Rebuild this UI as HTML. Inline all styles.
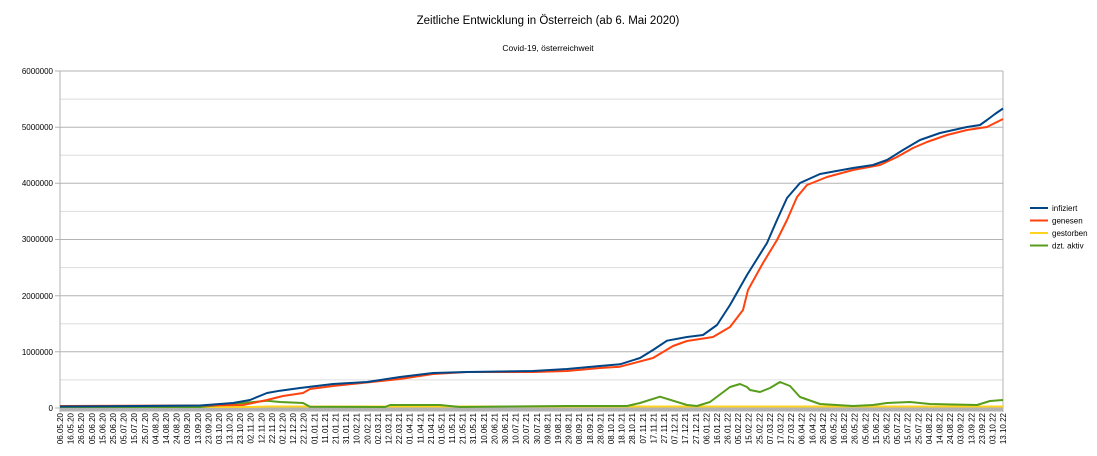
<!DOCTYPE html>
<html><head><meta charset="utf-8"><style>
html,body{margin:0;padding:0;background:#fff;}
svg{display:block;font-family:"Liberation Sans",sans-serif;}
</style></head><body>
<svg width="1097" height="456" viewBox="0 0 1097 456" xmlns="http://www.w3.org/2000/svg">
<text x="548" y="24" font-size="11.5" text-anchor="middle" fill="#000">Zeitliche Entwicklung in Österreich  (ab 6. Mai 2020)</text>
<text x="548" y="51" font-size="8.5" text-anchor="middle" fill="#000">Covid-19, österreichweit</text>
<g stroke="#dddddd" stroke-width="1">
<line x1="60" x2="1003" y1="99.1" y2="99.1"/><line x1="60" x2="1003" y1="155.3" y2="155.3"/><line x1="60" x2="1003" y1="211.4" y2="211.4"/><line x1="60" x2="1003" y1="267.6" y2="267.6"/><line x1="60" x2="1003" y1="323.7" y2="323.7"/><line x1="60" x2="1003" y1="379.9" y2="379.9"/>
</g>
<g stroke="#b3b3b3" stroke-width="1">
<line x1="55" x2="1003" y1="71" y2="71"/><line x1="55" x2="1003" y1="127.2" y2="127.2"/><line x1="55" x2="1003" y1="183.3" y2="183.3"/><line x1="55" x2="1003" y1="239.5" y2="239.5"/><line x1="55" x2="1003" y1="295.7" y2="295.7"/><line x1="55" x2="1003" y1="351.8" y2="351.8"/><line x1="55" x2="1003" y1="408" y2="408"/>
<line x1="60" x2="60" y1="71" y2="412"/><line x1="1003" x2="1003" y1="71" y2="412"/>
</g>
<rect x="60" y="408.5" width="943" height="3" fill="#b3b3b3"/>
<g font-size="8" text-anchor="end" fill="#000">
<text x="53" y="74">6000000</text><text x="53" y="130">5000000</text><text x="53" y="186">4000000</text><text x="53" y="242">3000000</text><text x="53" y="299">2000000</text><text x="53" y="355">1000000</text><text x="53" y="411">0</text>
</g>
<g fill="none" stroke-width="2" stroke-linejoin="round">
<polyline stroke="#ffd320" points="60,407 250,407 270,406.5 1003,406.5"/>
<polyline stroke="#579d1c" points="60,407 200,407 243,403 267,400.7 280,402 303,403 310,406.7 385,407 390,405 440,405 460,407 567,406 627,406 640,403 660,396.7 687,405 697,406 710,402 730,387 740,384 747,387 750,390 760,392 770,388 780,382 790,386 800,397 820,404 853,406 873,405 887,403 910,402 930,404 977,405 990,401 1003,400"/>
<polyline stroke="#ff420e" points="60,406 200,405.5 243,405 267,400 283,396 303,393 310,389 333,386 400,379 433,374 467,372 533,372 567,371 600,368 620,366.7 653,358 673,346 687,341 713,337 730,327 743,310 748,290 763,263 777,240 787,220 797,197 807,185 827,177 853,170 880,165 897,157 913,148 927,142 947,135 967,130 987,127 1003,119"/>
<polyline stroke="#004586" points="60,406.5 140,406 200,405.5 233,403 250,400 267,393 280,390.7 300,388 333,384 367,382 400,377 433,373 467,372 533,371 567,369 600,366 620,364.3 640,358 653,350 667,340.7 687,337 703,335 717,325 730,305 747,275 767,243 777,220 787,198 800,183 820,174 853,168 873,165 887,160 903,150 920,140 940,133 967,127 980,125 987,120 995,114 1003,108.5"/>
</g>
<g font-size="8" fill="#000">
<line x1="1030" x2="1048" y1="208" y2="208" stroke="#004586" stroke-width="2"/><text x="1052" y="211">infiziert</text>
<line x1="1030" x2="1048" y1="220.5" y2="220.5" stroke="#ff420e" stroke-width="2"/><text x="1052" y="223.5">genesen</text>
<line x1="1030" x2="1048" y1="233" y2="233" stroke="#ffd320" stroke-width="2"/><text x="1052" y="236">gestorben</text>
<line x1="1030" x2="1048" y1="245.5" y2="245.5" stroke="#579d1c" stroke-width="2"/><text x="1052" y="248.5">dzt. aktiv</text>
</g>
<g font-size="8" fill="#000" text-anchor="end">
<text transform="translate(63.0,413) rotate(-90)">06.05.20</text>
<text transform="translate(73.6,413) rotate(-90)">16.05.20</text>
<text transform="translate(84.2,413) rotate(-90)">26.05.20</text>
<text transform="translate(94.8,413) rotate(-90)">05.06.20</text>
<text transform="translate(105.4,413) rotate(-90)">15.06.20</text>
<text transform="translate(116.0,413) rotate(-90)">25.06.20</text>
<text transform="translate(126.6,413) rotate(-90)">05.07.20</text>
<text transform="translate(137.2,413) rotate(-90)">15.07.20</text>
<text transform="translate(147.8,413) rotate(-90)">25.07.20</text>
<text transform="translate(158.4,413) rotate(-90)">04.08.20</text>
<text transform="translate(169.0,413) rotate(-90)">14.08.20</text>
<text transform="translate(179.6,413) rotate(-90)">24.08.20</text>
<text transform="translate(190.2,413) rotate(-90)">03.09.20</text>
<text transform="translate(200.8,413) rotate(-90)">13.09.20</text>
<text transform="translate(211.3,413) rotate(-90)">23.09.20</text>
<text transform="translate(221.9,413) rotate(-90)">03.10.20</text>
<text transform="translate(232.5,413) rotate(-90)">13.10.20</text>
<text transform="translate(243.1,413) rotate(-90)">23.10.20</text>
<text transform="translate(253.7,413) rotate(-90)">02.11.20</text>
<text transform="translate(264.3,413) rotate(-90)">12.11.20</text>
<text transform="translate(274.9,413) rotate(-90)">22.11.20</text>
<text transform="translate(285.5,413) rotate(-90)">02.12.20</text>
<text transform="translate(296.1,413) rotate(-90)">12.12.20</text>
<text transform="translate(306.7,413) rotate(-90)">22.12.20</text>
<text transform="translate(317.3,413) rotate(-90)">01.01.21</text>
<text transform="translate(327.9,413) rotate(-90)">11.01.21</text>
<text transform="translate(338.5,413) rotate(-90)">21.01.21</text>
<text transform="translate(349.1,413) rotate(-90)">31.01.21</text>
<text transform="translate(359.7,413) rotate(-90)">10.02.21</text>
<text transform="translate(370.3,413) rotate(-90)">20.02.21</text>
<text transform="translate(380.9,413) rotate(-90)">02.03.21</text>
<text transform="translate(391.5,413) rotate(-90)">12.03.21</text>
<text transform="translate(402.1,413) rotate(-90)">22.03.21</text>
<text transform="translate(412.7,413) rotate(-90)">01.04.21</text>
<text transform="translate(423.3,413) rotate(-90)">11.04.21</text>
<text transform="translate(433.9,413) rotate(-90)">21.04.21</text>
<text transform="translate(444.5,413) rotate(-90)">01.05.21</text>
<text transform="translate(455.1,413) rotate(-90)">11.05.21</text>
<text transform="translate(465.7,413) rotate(-90)">21.05.21</text>
<text transform="translate(476.2,413) rotate(-90)">31.05.21</text>
<text transform="translate(486.8,413) rotate(-90)">10.06.21</text>
<text transform="translate(497.4,413) rotate(-90)">20.06.21</text>
<text transform="translate(508.0,413) rotate(-90)">30.06.21</text>
<text transform="translate(518.6,413) rotate(-90)">10.07.21</text>
<text transform="translate(529.2,413) rotate(-90)">20.07.21</text>
<text transform="translate(539.8,413) rotate(-90)">30.07.21</text>
<text transform="translate(550.4,413) rotate(-90)">09.08.21</text>
<text transform="translate(561.0,413) rotate(-90)">19.08.21</text>
<text transform="translate(571.6,413) rotate(-90)">29.08.21</text>
<text transform="translate(582.2,413) rotate(-90)">08.09.21</text>
<text transform="translate(592.8,413) rotate(-90)">18.09.21</text>
<text transform="translate(603.4,413) rotate(-90)">28.09.21</text>
<text transform="translate(614.0,413) rotate(-90)">08.10.21</text>
<text transform="translate(624.6,413) rotate(-90)">18.10.21</text>
<text transform="translate(635.2,413) rotate(-90)">28.10.21</text>
<text transform="translate(645.8,413) rotate(-90)">07.11.21</text>
<text transform="translate(656.4,413) rotate(-90)">17.11.21</text>
<text transform="translate(667.0,413) rotate(-90)">27.11.21</text>
<text transform="translate(677.6,413) rotate(-90)">07.12.21</text>
<text transform="translate(688.2,413) rotate(-90)">17.12.21</text>
<text transform="translate(698.8,413) rotate(-90)">27.12.21</text>
<text transform="translate(709.4,413) rotate(-90)">06.01.22</text>
<text transform="translate(720.0,413) rotate(-90)">16.01.22</text>
<text transform="translate(730.6,413) rotate(-90)">26.01.22</text>
<text transform="translate(741.1,413) rotate(-90)">05.02.22</text>
<text transform="translate(751.7,413) rotate(-90)">15.02.22</text>
<text transform="translate(762.3,413) rotate(-90)">25.02.22</text>
<text transform="translate(772.9,413) rotate(-90)">07.03.22</text>
<text transform="translate(783.5,413) rotate(-90)">17.03.22</text>
<text transform="translate(794.1,413) rotate(-90)">27.03.22</text>
<text transform="translate(804.7,413) rotate(-90)">06.04.22</text>
<text transform="translate(815.3,413) rotate(-90)">16.04.22</text>
<text transform="translate(825.9,413) rotate(-90)">26.04.22</text>
<text transform="translate(836.5,413) rotate(-90)">06.05.22</text>
<text transform="translate(847.1,413) rotate(-90)">16.05.22</text>
<text transform="translate(857.7,413) rotate(-90)">26.05.22</text>
<text transform="translate(868.3,413) rotate(-90)">05.06.22</text>
<text transform="translate(878.9,413) rotate(-90)">15.06.22</text>
<text transform="translate(889.5,413) rotate(-90)">25.06.22</text>
<text transform="translate(900.1,413) rotate(-90)">05.07.22</text>
<text transform="translate(910.7,413) rotate(-90)">15.07.22</text>
<text transform="translate(921.3,413) rotate(-90)">25.07.22</text>
<text transform="translate(931.9,413) rotate(-90)">04.08.22</text>
<text transform="translate(942.5,413) rotate(-90)">14.08.22</text>
<text transform="translate(953.1,413) rotate(-90)">24.08.22</text>
<text transform="translate(963.7,413) rotate(-90)">03.09.22</text>
<text transform="translate(974.3,413) rotate(-90)">13.09.22</text>
<text transform="translate(984.9,413) rotate(-90)">23.09.22</text>
<text transform="translate(995.4,413) rotate(-90)">03.10.22</text>
<text transform="translate(1006.0,413) rotate(-90)">13.10.22</text>
</g>
</svg>
</body></html>
